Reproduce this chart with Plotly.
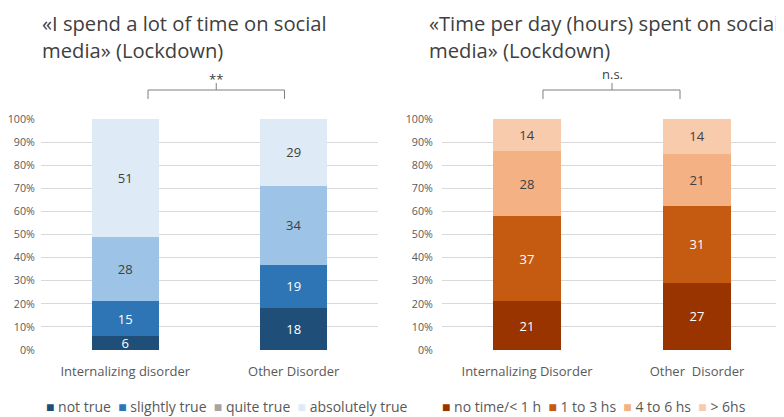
import plotly.graph_objects as go

# Left chart data
cats_left = ["Internalizing disorder", "Other Disorder"]
left_series = ["not true", "slightly true", "quite true", "absolutely true"]
not_true = [6, 18]
slightly_true = [15, 19]
quite_true = [28, 34]
absolutely_true = [51, 29]

# Right chart data
cats_right = ["Internalizing Disorder", "Other\u00a0\u00a0Disorder"]
right_series = ["no time/< 1 h", "1 to 3 hs", "4 to 6 hs", "> 6hs"]
no_time = [21, 27]
one_to_three = [37, 31]
four_to_six = [28, 21]
over_six = [14, 14]

y_ticks = [0, 10, 20, 30, 40, 50, 60, 70, 80, 90, 100]
y_tick_labels = [f"{v}%" for v in y_ticks]

FONT = "Open Sans"
DARK_TXT = "#404040"
GREY_TXT = "#595959"

left_vals = [not_true, slightly_true, quite_true, absolutely_true]
left_colors = ["#1F4E79", "#2E75B6", "#9DC3E6", "#DEEBF7"]
left_legend_colors = ["#1F4E79", "#2E75B6", "#A5A5A5", "#DEEBF7"]
left_text_colors = ["white", "white", DARK_TXT, DARK_TXT]

right_vals = [no_time, one_to_three, four_to_six, over_six]
right_colors = ["#993300", "#C55A11", "#F4B183", "#F8CBAD"]
right_text_colors = ["white", "white", DARK_TXT, DARK_TXT]

# The page body has an 8px margin, so the figure is drawn at (8, 8) in the window.
OFF = 8
W = 784 - OFF
H = 417 - OFF


def fx(px):
    return (px - OFF) / W


def fy(py):
    return 1 - (py - OFF) / H


fig = go.Figure()

for name, vals, col, tcol in zip(left_series, left_vals, left_colors, left_text_colors):
    fig.add_trace(go.Bar(
        x=cats_left, y=vals, name=name, marker=dict(color=col, line=dict(width=0)),
        text=[str(v) for v in vals], textposition="inside", insidetextanchor="middle",
        textangle=0, constraintext="none",
        textfont=dict(color=tcol, size=13, family=FONT), xaxis="x", yaxis="y",
        showlegend=False, hoverinfo="skip"))

for name, vals, col, tcol in zip(right_series, right_vals, right_colors, right_text_colors):
    fig.add_trace(go.Bar(
        x=cats_right, y=vals, name=name, marker=dict(color=col, line=dict(width=0)),
        text=[str(v) for v in vals], textposition="inside", insidetextanchor="middle",
        textangle=0, constraintext="none",
        textfont=dict(color=tcol, size=13, family=FONT), xaxis="x2", yaxis="y2",
        showlegend=False, hoverinfo="skip"))

yax = dict(range=[0, 100], tickvals=y_ticks, ticktext=y_tick_labels,
           showgrid=True, gridcolor="#D9D9D9", gridwidth=1, zeroline=False,
           tickfont=dict(size=10.7, color=GREY_TXT, family=FONT),
           ticks="outside", ticklen=6, tickcolor="rgba(0,0,0,0)",
           domain=[fy(350), fy(119)], fixedrange=True)
xax = dict(showgrid=False, zeroline=False, showline=False,
           tickfont=dict(size=13, color=GREY_TXT, family=FONT),
           ticks="outside", ticklen=9, tickcolor="rgba(0,0,0,0)", range=[-0.5, 1.5])

fig.update_layout(
    width=W, height=H,
    margin=dict(l=0, r=0, t=0, b=0, autoexpand=False),
    paper_bgcolor="white", plot_bgcolor="white",
    barmode="stack", barnorm="percent", bargap=0.6,
    showlegend=False,
    font=dict(family=FONT, color=GREY_TXT),
    xaxis=dict(xax, domain=[fx(41), fx(378)], anchor="y"),
    yaxis=dict(yax, anchor="x", ticklen=3),
    xaxis2=dict(xax, domain=[fx(442), fx(782)], anchor="y2"),
    yaxis2=dict(yax, anchor="x2"),
)

# Titles (two lines each)
title_font = dict(size=20.2, color=DARK_TXT, family=FONT)
for x_px, lines in [(41, ["«I spend a lot of time on social", "media» (Lockdown)"]),
                    (428, ["«Time per day (hours) spent on social", "media» (Lockdown)"])]:
    for i, line in enumerate(lines):
        fig.add_annotation(text=line, xref="paper", yref="paper",
                           x=fx(x_px), y=fy(8 + 27 * i), xanchor="left", yanchor="top",
                           borderpad=0, showarrow=False, font=title_font)


# Significance brackets (x in category units, y in paper units)
def bracket(xref, x0, x1, xm, label, label_bottom_px):
    yb = fy(90)
    ye = fy(99)
    ym = fy(83)
    path = f"M {x0},{ye} L {x0},{yb} L {x1},{yb} L {x1},{ye} M {xm},{yb} L {xm},{ym}"
    fig.add_shape(type="path", path=path, xref=xref, yref="paper",
                  line=dict(color="#7F7F7F", width=1))
    fig.add_annotation(text=label, x=xm, y=fy(label_bottom_px), xref=xref, yref="paper",
                       showarrow=False, yanchor="bottom", borderpad=0,
                       font=dict(size=13, color=DARK_TXT, family=FONT))


bracket("x", 0.135, 0.945, 0.54, "**", 89)
bracket("x2", 0.094, 0.9, 0.5, "n.s.", 84)


# Legends as coloured-square text rows
def legend_row(names, colors, x_px):
    parts = []
    for n, c in zip(names, colors):
        parts.append(f"<span style='color:{c}'>■</span>\u00a0{n}")
    fig.add_annotation(text="\u00a0\u00a0".join(parts), xref="paper", yref="paper",
                       x=fx(x_px), y=fy(406), xanchor="left", yanchor="middle",
                       showarrow=False, font=dict(size=14, color=GREY_TXT, family=FONT))


legend_row(left_series, left_legend_colors, 44)
legend_row(right_series, right_colors, 440)

fig.write_html("out.html")
